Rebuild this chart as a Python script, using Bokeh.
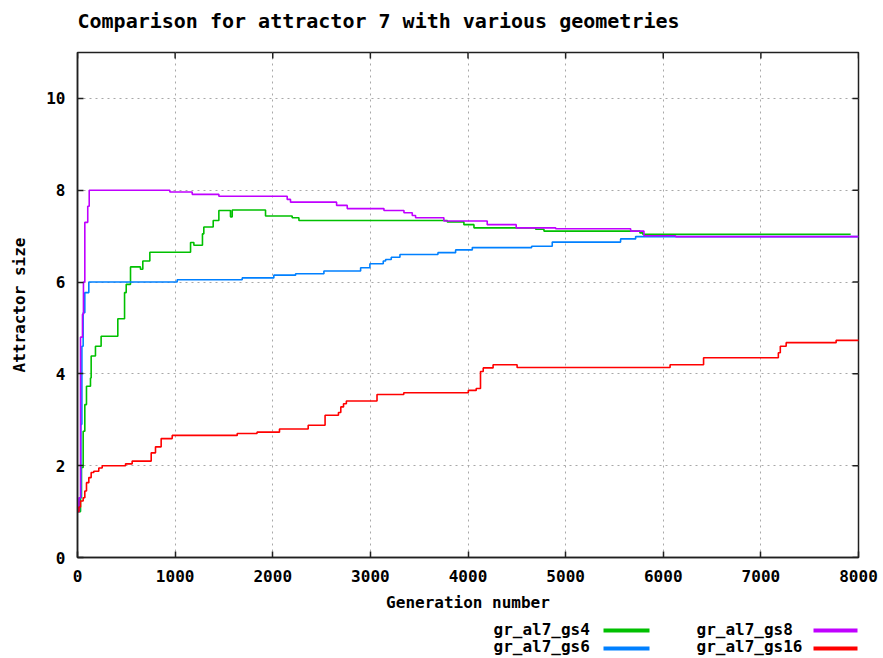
from bokeh.plotting import figure
from bokeh.models import Range1d, FixedTicker, ColumnDataSource, Label
from bokeh.layouts import column
from bokeh.core.properties import value
from bokeh.embed import file_html
from bokeh.resources import INLINE

# ---------------- data ----------------
title_text = "Comparison for attractor 7 with various geometries"
x_label = "Generation number"
y_label = "Attractor size"
x_ticks = [0, 1000, 2000, 3000, 4000, 5000, 6000, 7000, 8000]
y_ticks = [0, 2, 4, 6, 8, 10]

series_names = ["gr_al7_gs4", "gr_al7_gs6", "gr_al7_gs8", "gr_al7_gs16"]
series_colors = ["#00c000", "#0080ff", "#c000ff", "#ff0000"]

gs4_x = [0, 31, 41, 58, 75, 92, 133, 140, 184, 242, 413, 482, 499, 543, 645, 669, 741,
         1158, 1192, 1280, 1294, 1390, 1448, 1567, 1585, 1926, 2199, 2268, 3788, 3958,
         4061, 4693, 4778, 5761, 5790, 7920]
gs4_y = [1.0, 1.3, 1.96, 2.75, 3.33, 3.73, 3.91, 4.39, 4.6, 4.82, 5.2, 5.77, 5.95, 6.33,
         6.28, 6.46, 6.65, 6.86, 6.80, 7.05, 7.2, 7.34, 7.56, 7.42, 7.57, 7.44, 7.40, 7.34,
         7.31, 7.25, 7.18, 7.15, 7.11, 7.07, 7.04, 7.04]

gs6_x = [0, 20, 35, 45, 58, 75, 116, 1021, 1687, 2011, 2234, 2524, 2900, 2995, 3132,
         3156, 3214, 3303, 3692, 3873, 4044, 4652, 4863, 5563, 5717, 8000]
gs6_y = [1.0, 1.3, 2.9, 4.6, 5.33, 5.77, 6.0, 6.05, 6.09, 6.15, 6.18, 6.24, 6.31, 6.40,
         6.46, 6.49, 6.54, 6.60, 6.64, 6.70, 6.75, 6.78, 6.87, 6.94, 6.99, 6.99]

gs8_x = [0, 15, 31, 51, 61, 75, 105, 120, 946, 1175, 1448, 2148, 2182, 2654, 2763, 3139,
         3344, 3429, 3463, 3753, 4197, 4494, 4898, 5666, 5802, 6127, 8000]
gs8_y = [1.0, 1.3, 4.8, 5.3, 6.0, 7.3, 7.65, 8.0, 7.96, 7.91, 7.87, 7.80, 7.74, 7.67,
         7.60, 7.56, 7.51, 7.45, 7.40, 7.33, 7.25, 7.18, 7.16, 7.11, 7.01, 6.99, 6.99]

gs16_x = [0, 15, 31, 58, 75, 92, 116, 140, 167, 218, 253, 492, 560, 755, 799, 857, 970,
          1636, 1839, 2069, 2363, 2536, 2673, 2697, 2725, 2754, 3068, 3342, 4003, 4084,
          4128, 4156, 4257, 4503, 6070, 6413, 7179, 7199, 7259, 7771, 8000]
gs16_y = [1.0, 1.1, 1.23, 1.3, 1.45, 1.63, 1.74, 1.85, 1.88, 1.95, 2.0, 2.04, 2.10, 2.28,
          2.41, 2.59, 2.66, 2.70, 2.73, 2.80, 2.88, 3.10, 3.16, 3.28, 3.35, 3.41, 3.55,
          3.59, 3.64, 3.68, 4.05, 4.13, 4.20, 4.14, 4.20, 4.35, 4.46, 4.60, 4.68, 4.73, 4.75]

series_x = [gs4_x, gs6_x, gs8_x, gs16_x]
series_y = [gs4_y, gs6_y, gs8_y, gs16_y]

FONT = "DejaVu Sans Mono"
W = 880
X0, X1 = 0, 8000
Y0, Y1 = 0, 11
FRAME_L, FRAME_R = 77, 858       # page pixels of the plot frame
FRAME_T, FRAME_B = 52, 558
FRAME_W = FRAME_R - FRAME_L
FRAME_H = FRAME_B - FRAME_T
TICK = 6
DARK = "#202020"

# ---------------- title strip (frame aligned with main plot frame) ----------------
TH = 40
tf = figure(width=W, height=TH, x_range=Range1d(FRAME_L, FRAME_R), y_range=Range1d(TH, 0),
            x_axis_type=None, y_axis_type=None, output_backend="svg",
            toolbar_location=None, min_border=0)
tf.outline_line_color = None
tf.add_layout(Label(x=FRAME_L, y=20, text=title_text, text_font=FONT, text_font_style="bold",
                    text_font_size="20px", text_color="black",
                    text_baseline="middle", text_align="left"))

# ---------------- main plot ----------------
MH = 574
p = figure(width=W, height=MH, x_range=Range1d(X0, X1), y_range=Range1d(Y0, Y1),
           output_backend="svg", toolbar_location=None,
           min_border_left=FRAME_L, min_border_right=W - FRAME_R,
           min_border_top=FRAME_T - TH, min_border_bottom=TH + MH - FRAME_B)
p.outline_line_color = DARK
p.outline_line_width = 1.5

for xs, ys, col in zip(series_x, series_y, series_colors):
    p.step(xs, ys, mode="after", line_color=col, line_width=1.6)

# mirrored inward ticks on the right and top edges
dx = TICK * (X1 - X0) / FRAME_W
dy = TICK * (Y1 - Y0) / FRAME_H
p.segment(x0=[X1 - dx] * len(y_ticks), y0=y_ticks, x1=[X1] * len(y_ticks), y1=y_ticks,
          line_color=DARK, line_width=1.5)
p.segment(x0=x_ticks, y0=[Y1 - dy] * len(x_ticks), x1=x_ticks, y1=[Y1] * len(x_ticks),
          line_color=DARK, line_width=1.5)

p.xaxis.ticker = FixedTicker(ticks=x_ticks)
p.yaxis.ticker = FixedTicker(ticks=y_ticks)
for ax in [p.xaxis[0], p.yaxis[0]]:
    ax.major_tick_in = TICK
    ax.major_tick_out = 0
    ax.minor_tick_in = 0
    ax.minor_tick_out = 0
    ax.axis_line_color = DARK
    ax.axis_line_width = 1.5
    ax.major_tick_line_color = DARK
    ax.major_tick_line_width = 1.5
    ax.major_label_text_font = FONT
    ax.major_label_text_font_style = "bold"
    ax.major_label_text_font_size = "16px"
    ax.major_label_text_color = "black"
    ax.axis_label_text_font = FONT
    ax.axis_label_text_font_style = "bold"
    ax.axis_label_text_font_size = "16px"
    ax.axis_label_text_color = "black"

p.xaxis.axis_label = x_label
p.yaxis.axis_label = y_label
p.xaxis.major_label_standoff = 12
p.xaxis.axis_label_standoff = 8
p.yaxis.major_label_standoff = 12
p.yaxis.axis_label_standoff = 14
p.yaxis.major_label_orientation = "horizontal"

for g in [p.xgrid[0], p.ygrid[0]]:
    g.grid_line_color = "#a8a8a8"
    g.grid_line_dash = "2 4"
    g.grid_line_width = 1

# ---------------- legend strip (frame aligned with main plot frame) ----------------
LH = 43
LTOP = TH + MH
lf = figure(width=W, height=LH, x_range=Range1d(FRAME_L, FRAME_R), y_range=Range1d(LH, 0),
            x_axis_type=None, y_axis_type=None, output_backend="svg",
            toolbar_location=None, min_border=0)
lf.outline_line_color = None
text_x = [493, 493, 696, 696]
text_y = [629 - LTOP, 646 - LTOP, 629 - LTOP, 646 - LTOP]
line_x0 = [603, 603, 813, 813]
line_x1 = [649, 649, 857, 857]
line_y = [630 - LTOP, 648 - LTOP, 630 - LTOP, 648 - LTOP]
src = ColumnDataSource(dict(tx=text_x, ty=text_y, name=series_names, x0=line_x0,
                            x1=line_x1, ly=line_y, col=series_colors))
lf.text(x="tx", y="ty", text="name", source=src, text_font=value(FONT),
        text_font_style="bold", text_font_size="16px", text_color="black",
        text_baseline="middle", text_align="left")
lf.segment(x0="x0", y0="ly", x1="x1", y1="ly", color="col", line_width=4, source=src)

layout = column(tf, p, lf)
open("out.html", "w").write(file_html(layout, INLINE))
